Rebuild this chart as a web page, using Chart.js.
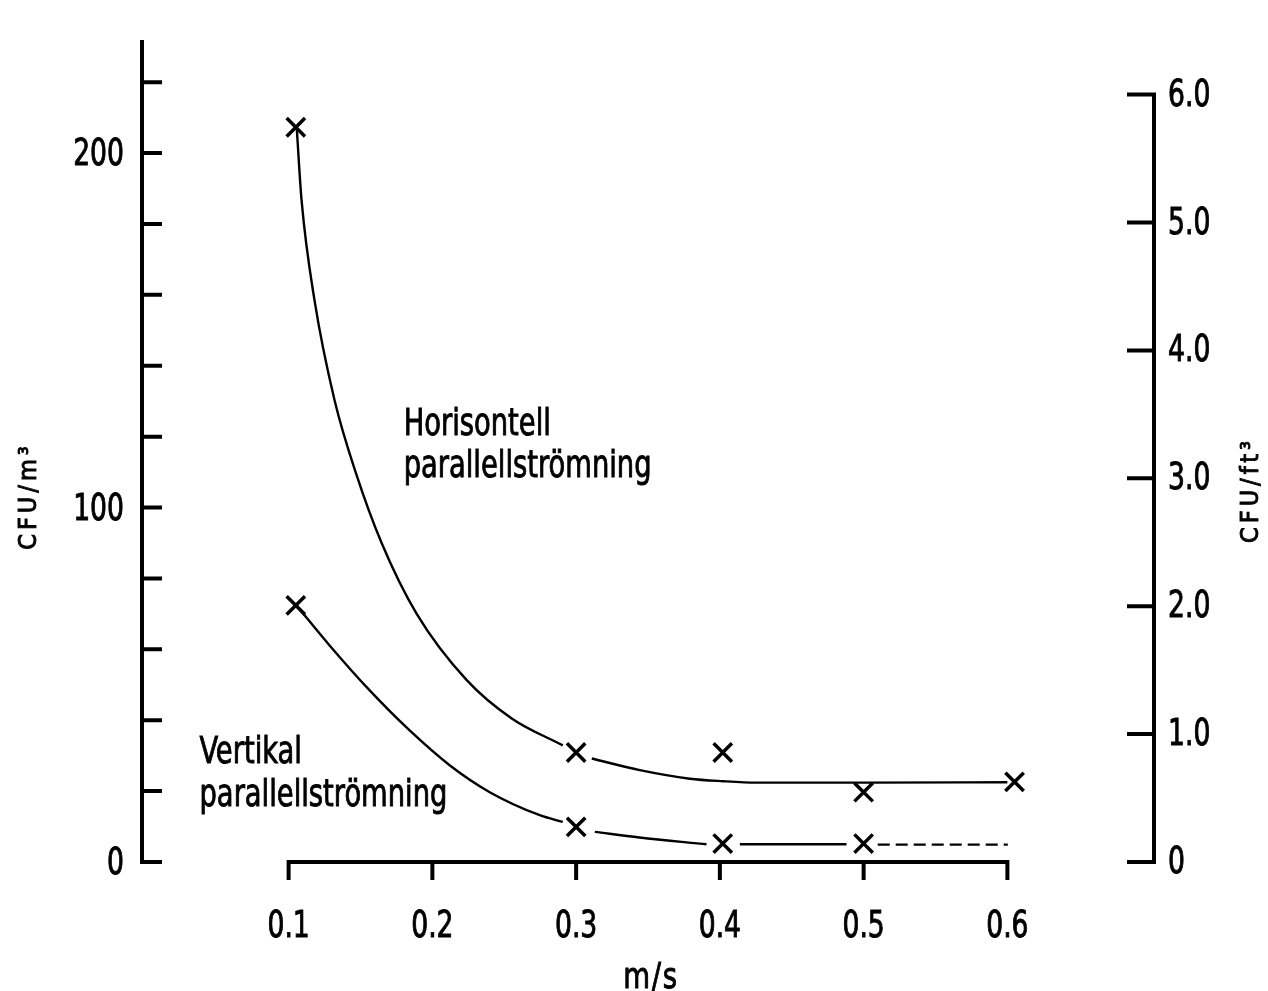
<!DOCTYPE html>
<html lang="sv">
<head>
  <meta charset="UTF-8">
  <title>CFU / lufthastighet</title>
  <script src="https://cdn.jsdelivr.net/npm/chart.js"></script>
  <style>
    body { margin: 0; background: #ffffff; }
    #chart-container { width: 1268px; height: 991px; }
  </style>
</head>
<body>

<div id="chart-container">
  <canvas id="myChart"></canvas>
</div>

<script>
// axis ticks
const xTicks = [0.1, 0.2, 0.3, 0.4, 0.5, 0.6];
const leftTicks = [0, 20, 40, 60, 80, 100, 120, 140, 160, 180, 200, 220];
const leftLabelled = [0, 100, 200];
const rightTicks = [0, 1, 2, 3, 4, 5, 6];

// measured points (x marks)
const horisX = [0.105, 0.3, 0.402, 0.5, 0.605];
const horisY = [207.3, 30.9, 30.9, 19.7, 22.6];
const vertX = [0.105, 0.3, 0.402, 0.5];
const vertY = [72.4, 9.9, 5.2, 5.2];

// drawn curves (null = where the line stops at a mark)
const horisCurveX = [0.1056, 0.109, 0.118, 0.132, 0.1466, 0.1647, 0.1891, 0.2239, 0.2552, 0.2907, 0.3, 0.3109, 0.3443, 0.3791, 0.402, 0.4257, 0.5, 0.6];
const horisCurveY = [207.3, 186.7, 158.5, 130.2, 110.0, 90.0, 70.0, 51.3, 40.5, 32.9, null, 29.2, 25.9, 23.5, 22.8, 22.4, 22.4, 22.5];
const vertCurveX = [0.1054, 0.1285, 0.1564, 0.1842, 0.212, 0.2399, 0.2747, 0.2907, 0.3, 0.313, 0.344, 0.3907, 0.402, 0.4139, 0.4881];
const vertCurveY = [72.4, 61.1, 48.4, 37.1, 27.3, 19.7, 13.2, 11.3, null, 8.5, 6.9, 5.0, null, 5.0, 5.0];
const vertDashX = [0.5098, 0.6003];
const vertDashY = [4.9, 4.9];

const FONT = "'DejaVu Sans Condensed', 'DejaVu Sans', sans-serif";

function pts(xs, ys) {
  return xs.map((x, i) => ({ x: x, y: ys[i] }));
}

// text squeezed sideways, the original lettering is very narrow
function squeezed(ctx, text, x, y, align, sx) {
  ctx.save();
  ctx.translate(x, y);
  ctx.scale(sx, 1);
  ctx.textAlign = align;
  ctx.fillText(text, 0, 0);
  ctx.strokeText(text, 0, 0);
  ctx.restore();
}

function fmtRight(v) {
  return v === 0 ? '0' : v.toFixed(1);
}

// axis lines with inward ticks, tick labels, titles and curve names
const drawnAxes = {
  id: 'drawnAxes',
  afterDraw(chart, args, opts) {
    const ctx = chart.ctx;
    const { x, y, y2 } = chart.scales;
    const area = chart.chartArea;
    const y0 = y.getPixelForValue(0);
    ctx.save();
    ctx.strokeStyle = '#000';
    ctx.lineWidth = 4;
    ctx.lineJoin = 'miter';

    // left axis
    ctx.beginPath();
    ctx.moveTo(area.left, area.top);
    ctx.lineTo(area.left, y0);
    ctx.lineTo(area.left + 20, y0);
    leftTicks.forEach(v => {
      const py = y.getPixelForValue(v);
      ctx.moveTo(area.left, py);
      ctx.lineTo(area.left + 20, py);
    });
    ctx.stroke();

    // right axis
    const r6 = y2.getPixelForValue(rightTicks[rightTicks.length - 1]);
    const r0 = y2.getPixelForValue(0);
    ctx.beginPath();
    ctx.moveTo(area.right - 27, r6);
    ctx.lineTo(area.right, r6);
    ctx.lineTo(area.right, r0);
    ctx.lineTo(area.right - 27, r0);
    rightTicks.forEach(v => {
      const py = y2.getPixelForValue(v);
      ctx.moveTo(area.right - 27, py);
      ctx.lineTo(area.right, py);
    });
    ctx.stroke();

    // x axis
    const xa = x.getPixelForValue(xTicks[0]);
    const xb = x.getPixelForValue(xTicks[xTicks.length - 1]);
    ctx.beginPath();
    ctx.moveTo(xa, y0 + 18);
    ctx.lineTo(xa, y0);
    ctx.lineTo(xb, y0);
    ctx.lineTo(xb, y0 + 18);
    xTicks.forEach(v => {
      const px = x.getPixelForValue(v);
      ctx.moveTo(px, y0);
      ctx.lineTo(px, y0 + 18);
    });
    ctx.stroke();

    ctx.fillStyle = '#000';
    ctx.lineWidth = 0.9;
    ctx.textBaseline = 'alphabetic';

    // tick labels
    ctx.font = '37px ' + FONT;
    leftLabelled.forEach(v => {
      squeezed(ctx, String(v), area.left - 18, y.getPixelForValue(v) + 12, 'right', 0.8);
    });
    rightTicks.forEach(v => {
      squeezed(ctx, fmtRight(v), area.right + 14, y2.getPixelForValue(v) + 11, 'left', 0.8);
    });
    xTicks.forEach(v => {
      squeezed(ctx, v.toFixed(1), x.getPixelForValue(v), y0 + 75, 'center', 0.8);
    });

    // axis titles
    ctx.font = '25px ' + FONT;
    ctx.letterSpacing = '4px';
    ctx.textAlign = 'center';
    ctx.save();
    ctx.translate(36, 496);
    ctx.rotate(-Math.PI / 2);
    ctx.fillText('CFU/m³', 0, 0);
    ctx.strokeText('CFU/m³', 0, 0);
    ctx.restore();
    ctx.save();
    ctx.translate(1258, 490);
    ctx.rotate(-Math.PI / 2);
    ctx.fillText('CFU/ft³', 0, 0);
    ctx.strokeText('CFU/ft³', 0, 0);
    ctx.restore();
    ctx.letterSpacing = '2px';
    ctx.font = '36px ' + FONT;
    squeezed(ctx, 'm/s', 651, 988, 'center', 0.85);
    ctx.letterSpacing = '0px';

    // curve names
    ctx.font = '38px ' + FONT;
    opts.notes.forEach(n => {
      squeezed(ctx, n.text, x.getPixelForValue(n.x), y.getPixelForValue(n.y), 'left', 0.8);
    });
    ctx.restore();
  }
};

const markStyle = {
  showLine: false,
  pointStyle: 'crossRot',
  pointRadius: 13,
  pointBorderWidth: 3.5,
  borderColor: '#000',
  yAxisID: 'y'
};

const curveStyle = {
  borderColor: '#000',
  borderWidth: 2.4,
  pointRadius: 0,
  cubicInterpolationMode: 'monotone',
  spanGaps: false,
  yAxisID: 'y'
};

const hiddenTicks = { display: false };

new Chart(document.getElementById('myChart').getContext('2d'), {
  type: 'line',
  data: {
    datasets: [
      Object.assign({ label: 'Horisontell (mätning)', data: pts(horisX, horisY) }, markStyle),
      Object.assign({ label: 'Vertikal (mätning)', data: pts(vertX, vertY) }, markStyle),
      Object.assign({ label: 'Horisontell parallellströmning', data: pts(horisCurveX, horisCurveY) }, curveStyle),
      Object.assign({ label: 'Vertikal parallellströmning', data: pts(vertCurveX, vertCurveY) }, curveStyle),
      Object.assign({ label: 'Vertikal (streckad)', data: pts(vertDashX, vertDashY), borderDash: [12, 6] }, curveStyle)
    ]
  },
  options: {
    responsive: true,
    maintainAspectRatio: false,
    animation: false,
    events: [],
    layout: { padding: { top: 40, left: 0, right: 0, bottom: 0 }, autoPadding: false },
    plugins: {
      legend: { display: false },
      tooltip: { enabled: false },
      drawnAxes: {
        notes: [
          { text: 'Horisontell', x: 0.18, y: 120.4 },
          { text: 'parallellströmning', x: 0.18, y: 108.5 },
          { text: 'Vertikal', x: 0.038, y: 27.8 },
          { text: 'parallellströmning', x: 0.038, y: 15.7 }
        ]
      }
    },
    scales: {
      x: {
        type: 'linear',
        min: -0.002,
        max: 0.702,
        afterBuildTicks: s => { s.ticks = xTicks.map(v => ({ value: v })); },
        afterFit: s => { s.height = 129; },
        grid: { display: false, drawTicks: false },
        border: { display: false },
        ticks: hiddenTicks
      },
      y: {
        position: 'left',
        min: 0,
        max: 231.9,
        afterBuildTicks: s => { s.ticks = leftTicks.map(v => ({ value: v })); },
        afterFit: s => { s.width = 142; },
        grid: { display: false, drawTicks: false },
        border: { display: false },
        ticks: hiddenTicks
      },
      y2: {
        position: 'right',
        min: 0,
        max: 6.427,
        afterBuildTicks: s => { s.ticks = rightTicks.map(v => ({ value: v })); },
        afterFit: s => { s.width = 114; },
        grid: { display: false, drawTicks: false },
        border: { display: false },
        ticks: hiddenTicks
      }
    }
  },
  plugins: [drawnAxes]
});
</script>

</body>
</html>
